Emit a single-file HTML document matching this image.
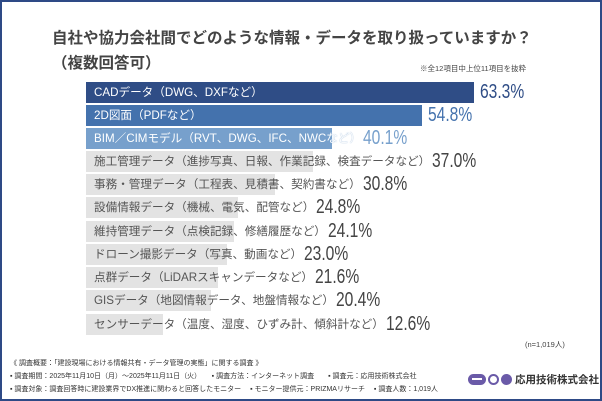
<!DOCTYPE html><html><head><meta charset="utf-8"><style>
*{box-sizing:border-box}
body{margin:0;width:602px;height:401px;overflow:hidden;background:#fff;font-family:"Liberation Sans","Noto Sans CJK JP",sans-serif}
.frame{position:absolute;left:0;top:0;width:602px;height:401px;border:2px solid #2e4a86}
.a{position:absolute;white-space:nowrap}
.bar{position:absolute;left:86px;height:21px}
.row{position:absolute;left:94px;height:21px;line-height:21px;white-space:nowrap}
.lab{font-size:11.6px;color:#555;vertical-align:top}
.pct{display:inline-block;font-size:20px;color:#444;margin-left:2px;vertical-align:top;transform:scaleX(.78);transform-origin:left}
.f{position:absolute;left:10px;font-size:7px;color:#333;white-space:nowrap}
</style></head><body><div class="frame"></div>
<div class="a" style="left:52px;top:26px;font-size:15.5px;font-weight:bold;color:#444">自社や協力会社間でどのような情報・データを取り扱っていますか？</div>
<div class="a" style="left:52px;top:51px;font-size:15.5px;font-weight:bold;color:#444">（複数回答可）</div>
<div class="a" style="left:420px;top:63px;font-size:7.5px;color:#444">※全12項目中上位11項目を抜粋</div>

<div class="bar" style="top:82px;width:388px;background:#2f4d86"></div><div class="row" style="top:82px"><span class="lab" style="color:#fff">CADデータ（DWG、DXFなど）</span></div><div class="row" style="top:82px;left:478px"><span class="pct" style="color:#2f4d86">63.3%</span></div>
<div class="bar" style="top:105px;width:336px;background:#4472ad"></div><div class="row" style="top:105px"><span class="lab" style="color:#fff">2D図面（PDFなど）</span></div><div class="row" style="top:105px;left:426px"><span class="pct" style="color:#4472ad">54.8%</span></div>
<div class="bar" style="top:128px;width:246px;background:#77a0cc"></div><div class="row" style="top:128px"><span class="lab" style="color:#fff;text-shadow:0 0 1px #77a0cc">BIM／CIMモデル（RVT、DWG、IFC、NWCなど）</span><span class="pct" style="color:#77a0cc">40.1%</span></div>
<div class="bar" style="top:151px;width:227px;background:#e3e3e3"></div><div class="row" style="top:151px"><span class="lab">施工管理データ（進捗写真、日報、作業記録、検査データなど）</span><span class="pct">37.0%</span></div>
<div class="bar" style="top:174px;width:189px;background:#e3e3e3"></div><div class="row" style="top:174px"><span class="lab">事務・管理データ（工程表、見積書、契約書など）</span><span class="pct">30.8%</span></div>
<div class="bar" style="top:197px;width:152px;background:#e3e3e3"></div><div class="row" style="top:197px"><span class="lab">設備情報データ（機械、電気、配管など）</span><span class="pct">24.8%</span></div>
<div class="bar" style="top:221px;width:148px;background:#e3e3e3"></div><div class="row" style="top:221px"><span class="lab">維持管理データ（点検記録、修繕履歴など）</span><span class="pct">24.1%</span></div>
<div class="bar" style="top:244px;width:141px;background:#e3e3e3"></div><div class="row" style="top:244px"><span class="lab">ドローン撮影データ（写真、動画など）</span><span class="pct">23.0%</span></div>
<div class="bar" style="top:267px;width:132px;background:#e3e3e3"></div><div class="row" style="top:267px"><span class="lab">点群データ（LiDARスキャンデータなど）</span><span class="pct">21.6%</span></div>
<div class="bar" style="top:290px;width:125px;background:#e3e3e3"></div><div class="row" style="top:290px"><span class="lab">GISデータ（地図情報データ、地盤情報など）</span><span class="pct">20.4%</span></div>
<div class="bar" style="top:314px;width:77px;background:#e3e3e3"></div><div class="row" style="top:314px"><span class="lab">センサーデータ（温度、湿度、ひずみ計、傾斜計など）</span><span class="pct">12.6%</span></div>

<div class="a" style="left:525px;top:339px;font-size:7.5px;color:#444">(n=1,019人)</div>
<div class="f" style="top:358px">《 調査概要：「建設現場における情報共有・データ管理の実態」に関する調査 》</div>
<div class="f" style="top:371px">▪ 調査期間：2025年11月10日（月）〜2025年11月11日（火）　　▪ 調査方法：インターネット調査　　▪ 調査元：応用技術株式会社</div>
<div class="f" style="top:384px">▪ 調査対象：調査回答時に建設業界でDX推進に関わると回答したモニター　 ▪ モニター提供元：PRIZMAリサーチ　 ▪ 調査人数：1,019人</div>
<div class="a" style="left:468px;top:374px;width:18px;height:11px;border-radius:6px;background:#6a5aa8"></div>
<div class="a" style="left:472px;top:378px;width:10px;height:2px;background:#fff"></div>
<div class="a" style="left:488px;top:374px;width:11px;height:11px;border:2px solid #6a5aa8;border-radius:50%"></div>
<div class="a" style="left:501px;top:374px;width:11px;height:11px;border-radius:50%;background:#6a5aa8"></div>
<div class="a" style="left:515px;top:372px;font-size:10.5px;font-weight:bold;color:#333">応用技術株式会社</div>
</body></html>
